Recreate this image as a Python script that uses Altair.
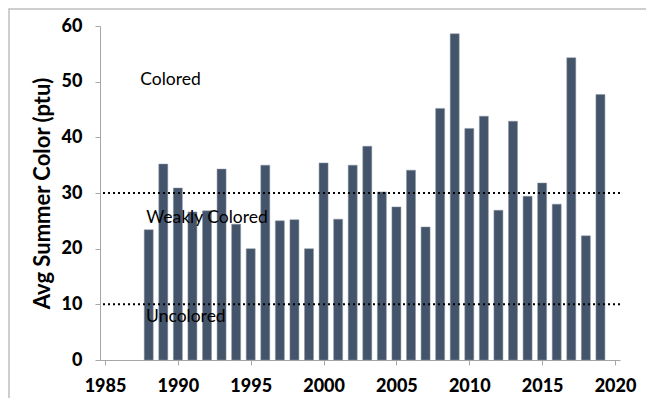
import altair as alt
import pandas as pd

years = list(range(1988, 2020))
color_ptu = [23.4, 35.2, 30.9, 26.6, 26.8, 34.3, 24.4, 20.0, 35.0, 25.0, 25.2, 20.0,
             35.4, 25.3, 35.0, 38.4, 30.2, 27.5, 34.1, 23.9, 45.2, 58.6, 41.6, 43.8,
             26.9, 42.9, 29.4, 31.8, 28.0, 54.3, 22.3, 47.7]

thresholds = [10, 30]
zone_labels = ["Colored", "Weakly Colored", "Uncolored"]
zone_x = [1989.5, 1992.0, 1990.55]
zone_y = [50.3, 25.5, 7.7]

x_ticks = [1985, 1990, 1995, 2000, 2005, 2010, 2015, 2020]
y_ticks = [0, 10, 20, 30, 40, 50, 60]

FONT = "Lato"

bars_df = pd.DataFrame({"year": years, "color": color_ptu})
thr_df = pd.DataFrame({"y": thresholds})
lab_df = pd.DataFrame({"label": zone_labels, "x": zone_x, "y": zone_y})

xs = alt.Scale(domain=[1985, 2020], nice=False, zero=False)
ys = alt.Scale(domain=[0, 60], nice=False)

x_axis = alt.Axis(values=x_ticks, format="d", title=None, grid=False,
                  labelFont=FONT, labelFontSize=18, labelFontWeight=900,
                  labelColor="black", domainColor="#a6a6a6", tickColor="#a6a6a6",
                  tickSize=5, labelPadding=12, labelFlush=False)
y_axis = alt.Axis(values=y_ticks, title="Avg Summer Color (ptu)", grid=False,
                  labelFont=FONT, labelFontSize=18, labelFontWeight=900,
                  labelColor="black", domainColor="#a6a6a6", tickColor="#a6a6a6",
                  tickSize=5, labelPadding=13,
                  titleFont=FONT, titleFontSize=22, titleFontWeight="bold",
                  titleColor="black", titlePadding=7)

bars = alt.Chart(bars_df).mark_bar(size=9, color="#44546A", stroke="#8a96a6",
                                   strokeWidth=0.5).encode(
    x=alt.X("year:Q", scale=xs, axis=x_axis),
    y=alt.Y("color:Q", scale=ys, axis=y_axis),
)

rules = alt.Chart(thr_df).mark_rule(color="black", strokeWidth=2,
                                    strokeDash=[2, 3]).encode(
    y=alt.Y("y:Q", scale=ys),
)

texts = alt.Chart(lab_df).mark_text(font=FONT, fontSize=17.5, color="black",
                                    align="center", baseline="middle").encode(
    x=alt.X("x:Q", scale=xs),
    y=alt.Y("y:Q", scale=ys),
    text="label:N",
)

frame = alt.Chart(pd.DataFrame({"a": [0]})).mark_rect(
    fill=None, stroke="#bfbfbf", strokeWidth=1.5, clip=False).encode(
    x=alt.value(-91), x2=alt.value(700), y=alt.value(-17), y2=alt.value(500))

chart = alt.layer(frame, bars, rules, texts).properties(
    width=520, height=334,
    autosize=alt.AutoSizeParams(type="none"),
    padding={"left": 92, "top": 18, "right": 26, "bottom": 38},
).configure_view(stroke=None)

chart.save("out.html", embed_options={"renderer": "svg", "actions": False})
